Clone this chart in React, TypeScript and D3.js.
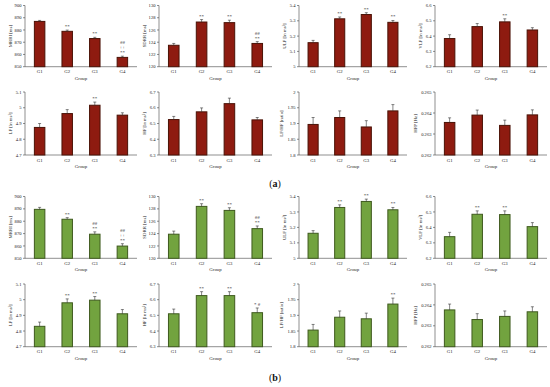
import React from 'react';
import * as d3 from 'd3';

const W = 550;
const H = 387;

const groups = ['G1', 'G2', 'G3', 'G4'];

// y-axis titles, domains and tick steps for the 8 measures
const yLabels = ['MRRI [ms]', 'SDRR [ms]', 'ULF [ln ms²]', 'VLF [ln ms²]', 'LF [ln ms²]', 'HF [ln ms²]', 'LF/HF [ratio]', 'HFP [Hz]'];
const yDomains = [[850, 900], [120, 130], [5, 5.4], [6.2, 6.6], [4.7, 5.1], [6.3, 6.7], [1.8, 2], [0.262, 0.265]];
const yTickSteps = [10, 2, 0.1, 0.1, 0.1, 0.1, 0.05, 0.001];

// panel (a) means / errors
const meansA = [
  [887, 878.9, 873, 857.6],
  [123.5, 127.3, 127.2, 123.8],
  [5.157, 5.313, 5.341, 5.29],
  [6.384, 6.462, 6.493, 6.44],
  [4.875, 4.963, 5.016, 4.953],
  [6.525, 6.574, 6.626, 6.523],
  [1.897, 1.919, 1.889, 1.94],
  [0.26355, 0.2639, 0.26341, 0.26391],
];
const errorsA = [
  [0.8, 1, 1, 1],
  [0.3, 0.4, 0.4, 0.3],
  [0.015, 0.012, 0.012, 0.012],
  [0.025, 0.02, 0.02, 0.015],
  [0.025, 0.025, 0.02, 0.015],
  [0.02, 0.025, 0.035, 0.015],
  [0.022, 0.021, 0.02, 0.02],
  [0.00022, 0.00024, 0.00025, 0.00024],
];
const marksA = [
  ['', '**', '**', '##|++|**'],
  ['', '**', '**', '##|**'],
  ['', '**', '**', '**'],
  ['', '', '**', ''],
  ['', '', '**', ''],
  ['', '', '', ''],
  ['', '', '', ''],
  ['', '', '', ''],
];

// panel (b) means / errors
const meansB = [
  [889.6, 881.6, 869.5, 859.9],
  [123.9, 128.4, 127.75, 124.8],
  [5.162, 5.329, 5.368, 5.314],
  [6.34, 6.485, 6.483, 6.405],
  [4.83, 4.98, 4.997, 4.91],
  [6.51, 6.626, 6.626, 6.517],
  [1.853, 1.894, 1.889, 1.936],
  [0.26376, 0.2633, 0.26345, 0.26367],
];
const errorsB = [
  [1.6, 1.3, 1.9, 1.9],
  [0.5, 0.43, 0.43, 0.43],
  [0.017, 0.017, 0.015, 0.015],
  [0.028, 0.022, 0.024, 0.026],
  [0.027, 0.025, 0.023, 0.027],
  [0.03, 0.025, 0.025, 0.03],
  [0.018, 0.02, 0.018, 0.019],
  [0.00028, 0.00028, 0.00026, 0.00024],
];
const marksB = [
  ['', '**', '##|**', '##|++|**'],
  ['', '**', '**', '##|**'],
  ['', '**', '**', '**'],
  ['', '**', '**', ''],
  ['', '**', '**', ''],
  ['', '**', '**', '* #'],
  ['', '', '', '**'],
  ['', '', '', ''],
];

// layout of the grid
const colLeft = [25, 159, 299, 435];
const colRight = [137, 272, 407, 547];
const rowTop = [5.5, 92, 196.5, 284];
const rowBase = [66.7, 155, 258.3, 346.7];

const FONT = '"Liberation Serif", "DejaVu Serif", serif';

function Panel({ x0, x1, top, base, label, domain, step, values, errors, marks, fill, stroke }) {
  const x = d3.scaleBand().domain(groups).range([x0, x1]).paddingInner(0.62).paddingOuter(0.34);
  const y = d3.scaleLinear().domain(domain).range([base, top]);
  const n = Math.round((domain[1] - domain[0]) / step);
  const ticks = d3.range(n + 1).map(i => +(domain[0] + i * step).toFixed(4));
  const fmt = (v: number) => String(+v.toFixed(4));
  const maxChars = d3.max(ticks, t => fmt(t).length);
  const labelX = x0 - 6 - maxChars * 2.4;

  return (
    <g>
      {/* axes */}
      <line x1={x0} x2={x0} y1={top} y2={base} stroke="#444" strokeWidth={0.6} />
      <line x1={x0} x2={x1} y1={base} y2={base} stroke="#444" strokeWidth={0.6} />
      {ticks.map(t => (
        <g key={t}>
          <line x1={x0 - 2} x2={x0} y1={y(t)} y2={y(t)} stroke="#444" strokeWidth={0.6} />
          <text x={x0 - 3.5} y={y(t)} dy="0.35em" fontSize={4.6} textAnchor="end" fill="#222">{fmt(t)}</text>
        </g>
      ))}
      <text transform={`translate(${labelX},${(top + base) / 2}) rotate(-90)`} fontSize={4.8} textAnchor="middle" fill="#222">{label}</text>
      {/* bars */}
      {groups.map((g, i) => {
        const cx = x(g) + x.bandwidth() / 2;
        const eTop = y(values[i] + errors[i]);
        const lines = marks[i] ? marks[i].split('|') : [];
        return (
          <g key={g}>
            <rect x={x(g)} y={y(values[i])} width={x.bandwidth()} height={base - y(values[i])}
              fill={fill} stroke={stroke} strokeWidth={1} />
            <line x1={cx} x2={cx} y1={y(values[i])} y2={eTop} stroke="#333" strokeWidth={0.6} />
            <line x1={cx - 1.5} x2={cx + 1.5} y1={eTop} y2={eTop} stroke="#333" strokeWidth={0.6} />
            {lines.map((s, k) => (
              <text key={k} x={cx} y={eTop - 2 - (lines.length - 1 - k) * 5} fontSize={5}
                textAnchor="middle" fill="#222">{s}</text>
            ))}
            <text x={cx} y={base + 6.5} fontSize={4.8} textAnchor="middle" fill="#222">{g}</text>
          </g>
        );
      })}
      <text x={(x0 + x1) / 2} y={base + 13} fontSize={4.8} textAnchor="middle" fill="#222">Group</text>
    </g>
  );
}

export default function App() {
  const panels = [];
  [[meansA, errorsA, marksA, '#8e1b10', '#4a1206'], [meansB, errorsB, marksB, '#72a33f', '#3f5a1e']].forEach(([means, errs, mks, fill, stroke], part) => {
    means.forEach((vals, m) => {
      const row = part * 2 + Math.floor(m / 4);
      const col = m % 4;
      panels.push(
        <Panel key={`${part}-${m}`} x0={colLeft[col]} x1={colRight[col]} top={rowTop[row]} base={rowBase[row]}
          label={yLabels[m]} domain={yDomains[m]} step={yTickSteps[m]} values={vals} errors={errs[m]}
          marks={mks[m]} fill={fill} stroke={stroke} />
      );
    });
  });

  return (
    <svg width={W} height={H} style={{ position: 'absolute', left: 0, top: 0, background: '#fff' }} fontFamily={FONT}>
      <rect width={W} height={H} fill="#fff" />
      {panels}
      <text x={275} y={187} fontSize={10} textAnchor="middle" fill="#111">(<tspan fontWeight="bold">a</tspan>)</text>
      <text x={275} y={381} fontSize={10} textAnchor="middle" fill="#111">(<tspan fontWeight="bold">b</tspan>)</text>
    </svg>
  );
}
